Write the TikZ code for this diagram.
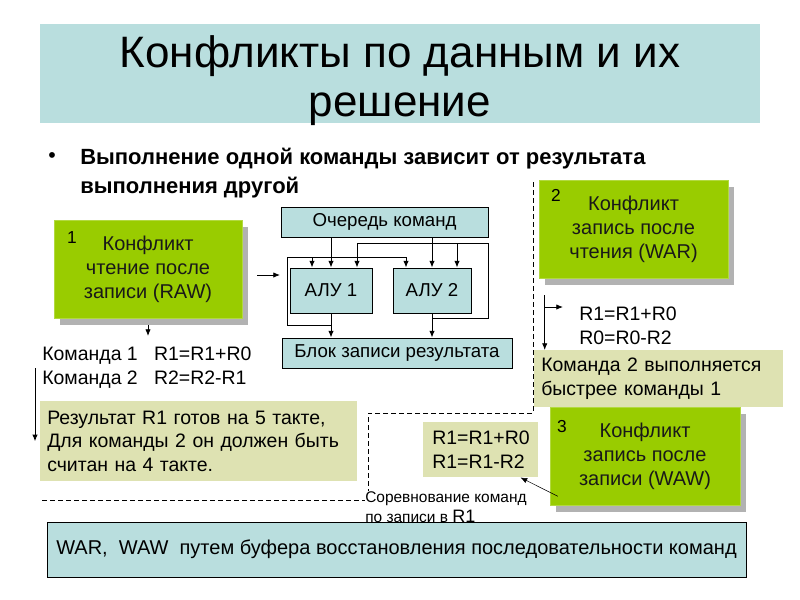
\documentclass[tikz,border=0pt]{standalone}
\usepackage{fontspec}
\setmainfont{Liberation Sans}
\usetikzlibrary{positioning,calc,shadows,arrows.meta}
\definecolor{ppgreen}{RGB}{153,204,0}
\definecolor{ppblue}{RGB}{185,222,222}
\definecolor{ppyellow}{RGB}{222,226,178}

\begin{document}
\begin{tikzpicture}[x=0.75pt,y=-0.75pt,
    sz/.style 2 args={minimum width=#1*0.75pt, minimum height=#2*0.75pt, inner sep=0pt},
    gbox/.style={fill=ppgreen, draw=ppgreen!75!white, align=center, text=black!90,
        font=\fontsize{15}{18}\selectfont,
        drop shadow={shadow xshift=4.5pt, shadow yshift=-5.25pt, fill=black!30, opacity=1}},
    bbox/.style={fill=ppblue, draw=black, line width=0.75pt, font=\fontsize{14}{16}\selectfont},
    ybox/.style={fill=ppyellow, align=left, font=\fontsize{14.6}{17.6}\selectfont},
    txt/.style={inner sep=0pt, align=left, font=\fontsize{14.6}{18}\selectfont},
    num/.style={inner sep=0pt, font=\fontsize{13}{13}\selectfont},
    arr/.style={-{Latex[length=5pt,width=4pt]}, line width=0.6pt},
    dashln/.style={dash pattern=on 4pt off 2pt, line width=0.5pt}]
  \fill[white] (0,0) rectangle (800,600);
  \useasboundingbox (0,0) rectangle (800,600);

  % Title
  \node[sz={720}{99}, fill=ppblue] (title) at (400,73.5) {};
  \node[align=center, inner sep=0pt, font=\fontsize{33}{36.75}\selectfont] (ttl) at (400,81)
    {Конфликты по данным и их\\решение};
  \node[num, font=\fontsize{16}{16}\selectfont] (dot) at (52,158) {•};
  \node[txt, anchor=north west, font=\bfseries\fontsize{16.5}{21.75}\selectfont] (lead) at (80,148)
    {Выполнение одной команды зависит от результата\\выполнения другой};

  % Conflict 1
  \node[gbox, sz={188}{98}] (raw) at (148,269) {Конфликт\\чтение после\\записи (RAW)};
  \node[num] (n1) at (72,238) {1};
  \node[txt, anchor=north west] (cmds) at (42,347) {Команда 1~~ R1=R1+R0\\Команда 2~~ R2=R2-R1};
  \draw[arr, shorten <=5.25pt, shorten >=8.25pt] (raw.south) -- (raw.south |- cmds.north);
  \node[ybox, sz={317}{80}, text width=227.25pt, anchor=north west] (res) at (40,401)
    {Результат R1 готов на 5 такте,\\Для команды 2 он должен быть\\считан на 4 такте.};
  \coordinate (cmdl) at (35,368);
  \draw[arr] (cmdl) -- (cmdl |- res.west);
  \coordinate (cin) at (280,275);
  \draw[arr] (raw.east |- cin) ++(15,0) -- (cin);

  % Pipeline
  \node[bbox, sz={207}{30}] (queue) at (384.5,222) {Очередь команд};
  \node[bbox, sz={82}{45}] (alu1) at (331,290.5) {АЛУ 1};
  \node[bbox, sz={78}{45}] (alu2) at (432,290.5) {АЛУ 2};
  \node[bbox, sz={230}{30}] (wb) at (397,353) {Блок записи результата};
  \draw[arr] (queue.south -| alu1) -- (alu1.north);
  \draw[arr] (queue.south -| alu2) -- (alu2.north);
  \draw[arr] (alu1.south) -- (wb.north -| alu1);
  \draw[arr] (alu2.south) -- (wb.north -| alu2);
  \draw[arr] (alu1.south) ++(0,12) -| (287,257) -| (406,257 |- alu2.north);
  \draw[arr] (312,257) -- (312,257 |- alu1.north);
  \draw[arr] (alu2.south) ++(0,5) -| (488,243) -| (357,243 |- alu1.north);
  \draw[arr] (457,243) -- (457,243 |- alu2.north);

  % Conflict 2
  \node[gbox, sz={189}{98}] (war) at (633.5,229) {Конфликт\\запись после\\чтения (WAR)};
  \node[num] (n2) at (556,195) {2};
  \node[txt, anchor=north west] (warcmd) at (579,307) {R1=R1+R0\\R0=R0-R2};
  \node[ybox, sz={249}{57}, text width=176.25pt, anchor=north west] (fast) at (534,350)
    {Команда 2 выполняется\\быстрее команды 1};
  \coordinate (wfork) at ($(war.south west)+(6,17)$);
  \draw[arr] (wfork) -- (wfork |- fast.north);
  \draw[arr] (wfork |- warcmd.north) -- ([xshift=-12pt]warcmd.north west);

  % Conflict 3
  \node[gbox, sz={190}{98}] (waw) at (645,456) {Конфликт\\запись после\\записи (WAW)};
  \node[num] (n3) at (562,427) {3};
  \node[ybox, sz={115}{55}, text width=72.75pt, anchor=north west] (r1box) at (423,422)
    {R1=R1+R0\\R1=R1-R2};
  \draw[arr, line width=0.4pt] ($(waw.south west)+(8,-9)$) -- ($(r1box.south east)+(-18,0)$);

  % Solution
  \node[bbox, sz={699}{55}, font=\fontsize{15}{17}\selectfont] (fix) at (396.5,549.5)
    {WAR,\ \ WAW\ \ путем буфера восстановления последовательности команд};
  \node[inner sep=0pt, anchor=north west, align=left, font=\fontsize{11.6}{15}\selectfont] (race) at (365,491)
    {Соревнование команд\\по записи в {\fontsize{13.5}{15}\selectfont R1}};
  \coordinate (dl) at (42,500);
  \draw[dashln] (dl) -- (dl -| race.west);
  \coordinate (dtop) at (533,182);
  \coordinate (dmid) at (368,413);
  \draw[dashln] (dtop) |- (dmid) -- (dmid |- race.north);
\end{tikzpicture}
\end{document}
